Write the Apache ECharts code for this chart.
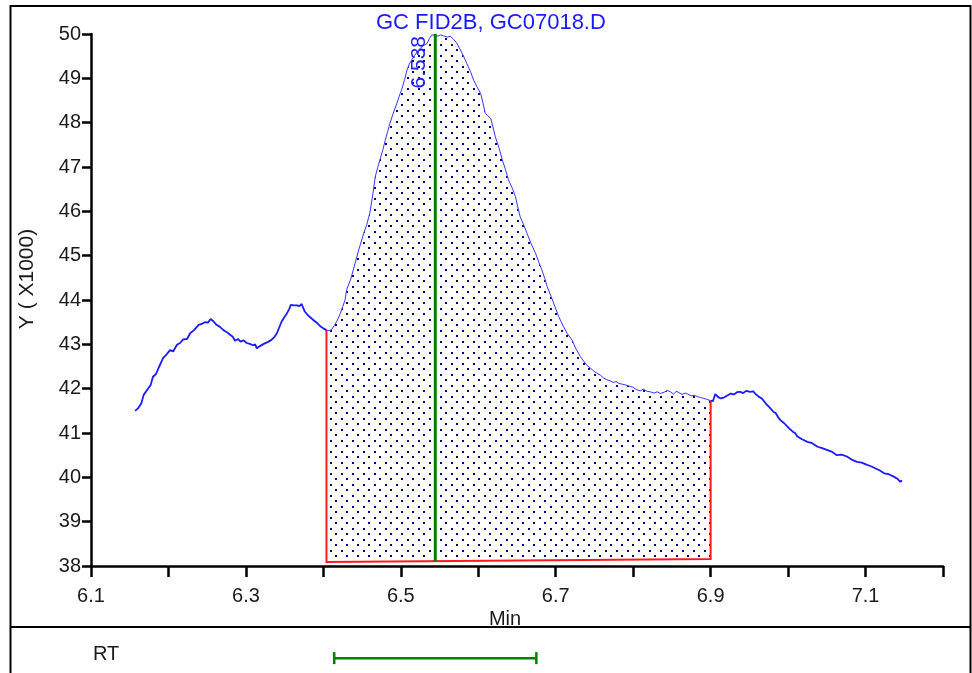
<!DOCTYPE html>
<html><head><meta charset="utf-8">
<script src="https://cdn.jsdelivr.net/npm/echarts@6/dist/echarts.min.js"></script>
<style>html,body{margin:0;padding:0;background:#fff}#c{width:972px;height:673px}</style>
</head><body><div id="c"></div>
<script>
// ---- data ----
const rtMin = [6.157,6.161,6.165,6.168,6.174,6.177,6.180,6.184,6.187,6.193,6.197,6.202,6.206,6.211,6.215,6.219,6.224,6.228,6.233,6.239,6.243,6.247,6.251,6.2545,6.258,6.262,6.266,6.271,6.275,6.280,6.283,6.286,6.290,6.293,6.297,6.301,6.305,6.309,6.312,6.314,6.318,6.323,6.328,6.333,6.337,6.340,6.343,6.346,6.350,6.353,6.356,6.358,6.362,6.366,6.369,6.372,6.374,6.376,6.380,6.383,6.387,6.392,6.396,6.400,6.404,6.408,6.411,6.414,6.417,6.420,6.422,6.425,6.428,6.430,6.435,6.441,6.446,6.452,6.456,6.460,6.464,6.467,6.470,6.473,6.477,6.480,6.483,6.486,6.490,6.495,6.498,6.501,6.505,6.508,6.511,6.514,6.518,6.523,6.528,6.534,6.537,6.540,6.544,6.548,6.551,6.555,6.560,6.564,6.568,6.572,6.577,6.581,6.585,6.590,6.594,6.598,6.603,6.606,6.609,6.612,6.616,6.619,6.622,6.627,6.631,6.635,6.639,6.644,6.648,6.651,6.654,6.659,6.663,6.668,6.674,6.678,6.682,6.686,6.689,6.694,6.699,6.704,6.710,6.715,6.721,6.726,6.732,6.736,6.740,6.745,6.749,6.753,6.758,6.762,6.766,6.770,6.774,6.778,6.781,6.786,6.791,6.796,6.800,6.804,6.809,6.813,6.818,6.822,6.827,6.831,6.835,6.840,6.844,6.848,6.852,6.856,6.859,6.863,6.867,6.870,6.875,6.879,6.883,6.887,6.891,6.895,6.898,6.900,6.903,6.906,6.909,6.913,6.917,6.921,6.926,6.930,6.934,6.938,6.942,6.946,6.951,6.955,6.958,6.962,6.966,6.971,6.976,6.981,6.984,6.987,6.990,6.995,7.001,7.006,7.009,7.012,7.018,7.025,7.031,7.038,7.044,7.050,7.056,7.063,7.069,7.076,7.082,7.089,7.095,7.102,7.107,7.113,7.118,7.124,7.130,7.137,7.141,7.145,7.147];
const signal = [41.50,41.56,41.67,41.86,42.01,42.08,42.27,42.33,42.46,42.69,42.76,42.87,42.84,42.99,43.03,43.11,43.12,43.25,43.32,43.44,43.46,43.50,43.49,43.57,43.52,43.44,43.40,43.32,43.28,43.21,43.17,43.08,43.12,43.06,43.09,43.03,43.01,42.98,43.00,42.91,42.96,43.01,43.05,43.10,43.17,43.25,43.38,43.51,43.62,43.70,43.80,43.89,43.88,43.88,43.86,43.91,43.82,43.74,43.66,43.61,43.55,43.48,43.41,43.36,43.32,43.31,43.34,43.42,43.51,43.62,43.70,43.85,44.00,44.23,44.45,44.83,45.15,45.50,45.70,45.96,46.40,46.78,46.98,47.16,47.40,47.61,47.80,47.99,48.20,48.44,48.60,48.74,48.98,49.19,49.32,49.41,49.52,49.64,49.72,49.79,49.90,49.98,49.97,49.95,49.98,49.96,49.93,49.95,49.88,49.80,49.64,49.50,49.34,49.15,48.96,48.82,48.66,48.45,48.21,48.16,48.10,47.90,47.68,47.42,47.16,46.95,46.71,46.52,46.33,46.10,45.88,45.68,45.50,45.28,45.05,44.86,44.68,44.48,44.30,44.08,43.85,43.62,43.40,43.24,43.10,42.90,42.72,42.62,42.53,42.46,42.40,42.35,42.30,42.24,42.20,42.18,42.14,42.16,42.12,42.10,42.08,42.05,42.03,41.98,41.95,41.99,41.94,41.93,41.90,41.93,41.89,41.92,41.96,41.93,41.88,41.94,41.91,41.87,41.90,41.88,41.84,41.85,41.82,41.80,41.78,41.76,41.74,41.73,41.72,41.88,41.82,41.78,41.80,41.84,41.89,41.87,41.92,41.93,41.90,41.95,41.93,41.94,41.88,41.82,41.78,41.67,41.58,41.48,41.45,41.36,41.29,41.22,41.11,41.03,41.00,40.92,40.86,40.80,40.77,40.69,40.66,40.62,40.58,40.50,40.51,40.47,40.40,40.35,40.33,40.28,40.25,40.20,40.16,40.09,40.07,40.01,39.97,39.90,39.93];
const xTickLabels = ['6.1','6.3','6.5','6.7','6.9','7.1'];
const xRange = [6.1, 7.2];
const yRange = [38, 50];
const integStart = [6.404, 38.09];
const integEnd = [6.900, 38.16];
const peakLineRT = 6.5445;
const peakLabel = '6.538';
const rtWindow = [6.414, 6.675];
const titleText = 'GC FID2B, GC07018.D';
const yName = 'Y ( X1000)';
const xName = 'Min';
const rtName = 'RT';

// ---- helpers ----
const pairs = rtMin.map((x, i) => [x, signal[i]]);
const leftPart = pairs.filter(p => p[0] <= integStart[0]);
const midPart = pairs.filter(p => p[0] >= integStart[0] && p[0] <= integEnd[0]);
const rightPart = pairs.filter(p => p[0] >= integEnd[0]);
function baseAt(x) {
  return integStart[1] + (x - integStart[0]) / (integEnd[0] - integStart[0]) * (integEnd[1] - integStart[1]);
}
const pc = document.createElement('canvas');
pc.width = 11; pc.height = 11;
const g = pc.getContext('2d');
g.fillStyle = '#000080';
g.fillRect(0, 0, 2, 2);
g.fillRect(5, 5, 2, 2);
const dotPattern = { image: pc, repeat: 'repeat' };

const FONT = '"Liberation Sans", Arial, sans-serif';
const chart = echarts.init(document.getElementById('c'), null, { renderer: 'canvas' });
chart.setOption({
  animation: false,
  backgroundColor: '#fff',
  grid: [
    { left: 91, top: 34, width: 852, height: 532 },
    { left: 91, top: 628, width: 852, height: 45 }
  ],
  xAxis: [{
    type: 'value', gridIndex: 0, min: xRange[0], max: xRange[1], interval: 0.1,
    splitLine: { show: false },
    axisLine: { lineStyle: { color: '#000', width: 2.5 } },
    axisTick: { length: 11, lineStyle: { color: '#000', width: 2.5 } },
    axisLabel: {
      margin: 20, color: '#1a1a1a', fontSize: 20, fontFamily: FONT,
      formatter: v => { const s = (Math.round(v * 10) / 10).toFixed(1); return xTickLabels.includes(s) ? s : ''; }
    }
  }, {
    type: 'value', gridIndex: 1, min: xRange[0], max: xRange[1], show: false
  }],
  yAxis: [{
    type: 'value', gridIndex: 0, min: yRange[0], max: yRange[1], interval: 1,
    splitLine: { show: false },
    axisLine: { show: true, lineStyle: { color: '#000', width: 2.5 } },
    axisTick: { show: true, length: 9, lineStyle: { color: '#000', width: 2.5 } },
    axisLabel: { margin: 10, color: '#1a1a1a', fontSize: 20, fontFamily: FONT }
  }, {
    type: 'value', gridIndex: 1, min: 0, max: 1, show: false
  }],
  graphic: [
    { type: 'rect', shape: { x: 10.5, y: 6, width: 960, height: 700 }, style: { fill: 'none', stroke: '#000', lineWidth: 2 }, z: 10 },
    { type: 'line', shape: { x1: 10, y1: 627, x2: 971, y2: 627 }, style: { stroke: '#000', lineWidth: 2 }, z: 10 },
    { type: 'text', x: 376, y: 12, style: { text: titleText, fill: '#1a1aff', font: '22px ' + FONT, align: 'left', verticalAlign: 'top' }, z: 10 },
    { type: 'text', x: 27, y: 279, rotation: Math.PI / 2, style: { text: yName, fill: '#1a1a1a', font: '21px ' + FONT, align: 'center', verticalAlign: 'middle' }, z: 10 },
    { type: 'text', x: 505, y: 619, style: { text: xName, fill: '#1a1a1a', font: '20px ' + FONT, align: 'center', verticalAlign: 'middle' }, z: 10 },
    { type: 'text', x: 93, y: 654, style: { text: rtName, fill: '#1a1a1a', font: '20px ' + FONT, align: 'left', verticalAlign: 'middle' }, z: 10 }
  ],
  series: [
    {
      type: 'custom', xAxisIndex: 0, yAxisIndex: 0, z: 1, silent: true, clip: false,
      data: [[integStart[0], integStart[1]]],
      renderItem: (params, api) => {
        const pts = midPart.map(p => api.coord(p));
        pts.push(api.coord(integEnd));
        pts.push(api.coord(integStart));
        const redPts = [api.coord(midPart[0]), api.coord(integStart), api.coord(integEnd), api.coord(midPart[midPart.length - 1])];
        return {
          type: 'group', children: [
            { type: 'polygon', shape: { points: pts }, style: { fill: dotPattern, stroke: null } },
            { type: 'polyline', shape: { points: redPts }, style: { stroke: '#ff1a1a', lineWidth: 2, fill: null } }
          ]
        };
      }
    },
    { type: 'line', data: leftPart, showSymbol: false, symbol: 'none', z: 3, lineStyle: { color: '#1a1aff', width: 1.8 } },
    { type: 'line', data: midPart, showSymbol: false, symbol: 'none', z: 3, lineStyle: { color: '#3535ff', width: 1 } },
    { type: 'line', data: rightPart, showSymbol: false, symbol: 'none', z: 3, lineStyle: { color: '#1a1aff', width: 1.8 } },
    {
      type: 'custom', xAxisIndex: 0, yAxisIndex: 0, z: 5, silent: true, clip: false,
      data: [[peakLineRT, yRange[1]]],
      renderItem: (params, api) => {
        const top = api.coord([peakLineRT, yRange[1]]);
        const bot = api.coord([peakLineRT, baseAt(peakLineRT)]);
        return {
          type: 'group', children: [
            { type: 'line', shape: { x1: top[0], y1: top[1], x2: bot[0], y2: bot[1] }, style: { stroke: '#008000', lineWidth: 3 } },
            { type: 'text', x: top[0] - 6, y: top[1] + 2, rotation: Math.PI / 2,
              style: { text: peakLabel, fill: '#2020ff', font: '21px ' + FONT, align: 'right', verticalAlign: 'bottom' } }
          ]
        };
      }
    },
    {
      type: 'custom', xAxisIndex: 1, yAxisIndex: 1, z: 5, silent: true, clip: false,
      data: [[rtWindow[0], rtWindow[1]]],
      renderItem: (params, api) => {
        const a = api.coord([api.value(0), 0.33]);
        const b = api.coord([api.value(1), 0.33]);
        const st = { stroke: '#008000', lineWidth: 2.5 };
        return {
          type: 'group', children: [
            { type: 'line', shape: { x1: a[0], y1: a[1], x2: b[0], y2: b[1] }, style: st },
            { type: 'line', shape: { x1: a[0], y1: a[1] - 6, x2: a[0], y2: a[1] + 6 }, style: st },
            { type: 'line', shape: { x1: b[0], y1: b[1] - 6, x2: b[0], y2: b[1] + 6 }, style: st }
          ]
        };
      }
    }
  ]
});
</script>
</body></html>
